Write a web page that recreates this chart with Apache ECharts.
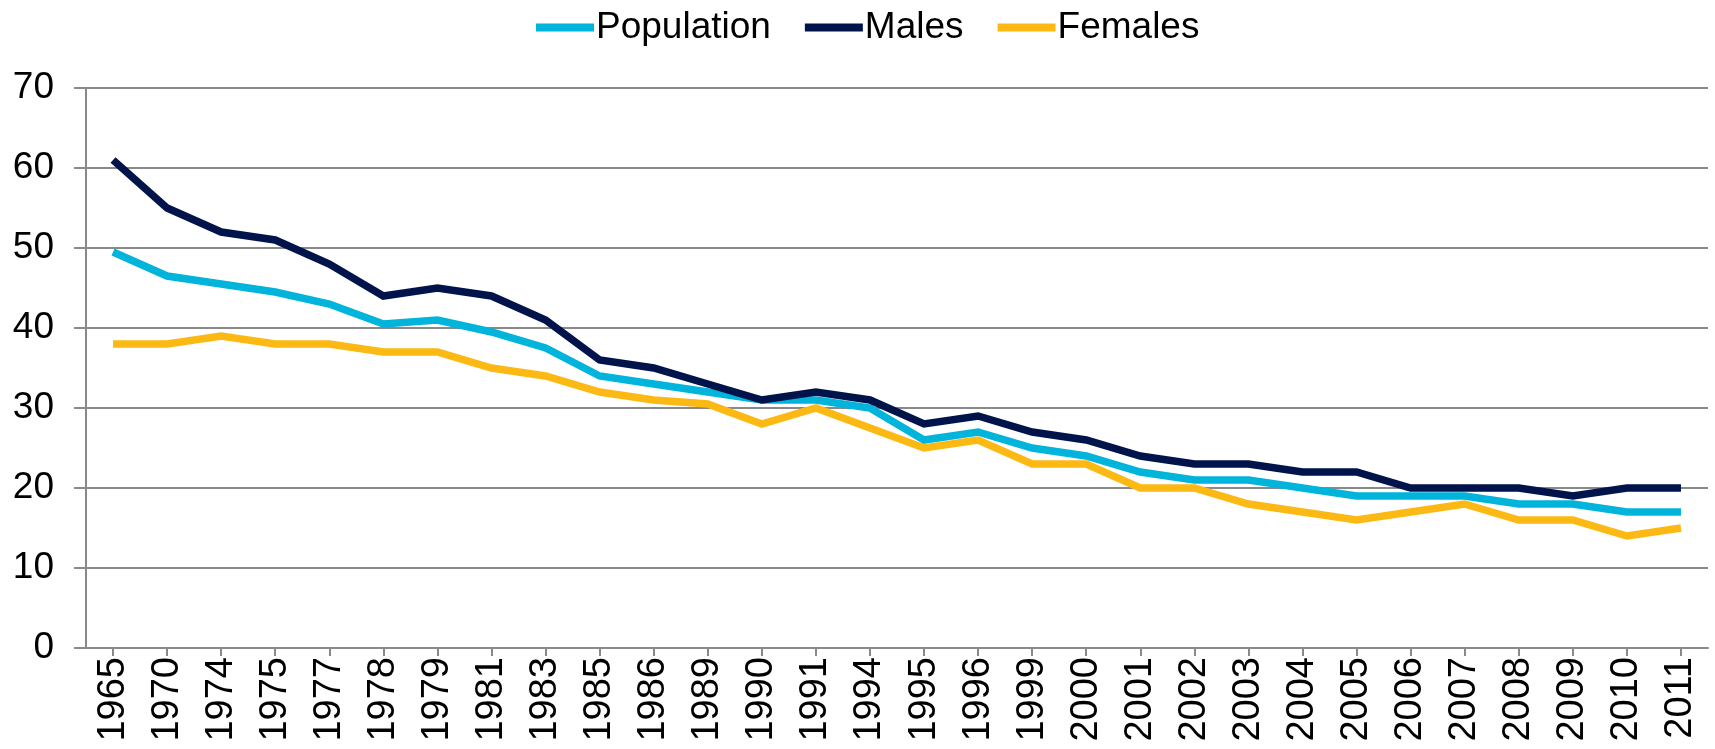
<!DOCTYPE html>
<html>
<head>
<meta charset="utf-8">
<script src="https://cdn.jsdelivr.net/npm/echarts@6/dist/echarts.min.js"></script>
<style>
  html, body { margin: 0; padding: 0; background: #fff; }
  #chart-container { width: 1715px; height: 749px; }
</style>
</head>
<body>
<div id="chart-container"></div>
<script>
var years = ['1965', '1970', '1974', '1975', '1977', '1978', '1979', '1981', '1983', '1985',
    '1986', '1989', '1990', '1991', '1994', '1995', '1996', '1999', '2000', '2001',
    '2002', '2003', '2004', '2005', '2006', '2007', '2008', '2009', '2010', '2011'];

var population = [49.5, 46.5, 45.5, 44.5, 43, 40.5, 41, 39.5, 37.5, 34,
    33, 32, 31, 31, 30, 26, 27, 25, 24, 22,
    21, 21, 20, 19, 19, 19, 18, 18, 17, 17];

var males = [61, 55, 52, 51, 48, 44, 45, 44, 41, 36,
    35, 33, 31, 32, 31, 28, 29, 27, 26, 24,
    23, 23, 22, 22, 20, 20, 20, 19, 20, 20];

var females = [38, 38, 39, 38, 38, 37, 37, 35, 34, 32,
    31, 30.5, 28, 30, 27.5, 25, 26, 23, 23, 20,
    20, 18, 17, 16, 17, 18, 16, 16, 14, 15];

var yTicks = [0, 10, 20, 30, 40, 50, 60, 70];

var font = '"Liberation Sans", Arial, sans-serif';
var gray = '#898989';

var makeLine = function (name, data, color) {
    return {
        name: name,
        type: 'line',
        data: data,
        showSymbol: false,
        symbol: 'none',
        lineStyle: { color: color, width: 7.5, join: 'miter' },
        itemStyle: { color: color },
        emphasis: { disabled: true }
    };
};

var myChart = echarts.init(document.getElementById('chart-container'));

var option = {
    animation: false,
    textStyle: { fontFamily: font },
    legend: {
        top: 4,
        left: 531,
        icon: 'rect',
        itemWidth: 58,
        itemHeight: 8,
        itemGap: 34,
        textStyle: { fontSize: 37, color: '#000', fontFamily: font, padding: [0, 0, 0, -3] },
        data: ['Population', 'Males', 'Females']
    },
    grid: { left: 86, right: 7, top: 88, bottom: 101 },
    xAxis: {
        type: 'category',
        data: years,
        boundaryGap: true,
        axisLine: { lineStyle: { color: gray, width: 2 } },
        axisTick: { show: true, alignWithLabel: true, length: 8, lineStyle: { color: gray, width: 2 } },
        axisLabel: { rotate: 90, margin: 9, fontSize: 38, color: '#000', fontFamily: font, interval: 0 },
        splitLine: { show: false }
    },
    yAxis: {
        type: 'value',
        min: yTicks[0],
        max: yTicks[yTicks.length - 1],
        interval: 10,
        axisLine: { show: true, lineStyle: { color: gray, width: 2 } },
        axisTick: { show: true, length: 12, lineStyle: { color: gray, width: 2 } },
        axisLabel: { margin: 32, fontSize: 37, color: '#000', fontFamily: font },
        splitLine: { show: true, lineStyle: { color: gray, width: 2 } }
    },
    series: [
        makeLine('Population', population, '#00B4DC'),
        makeLine('Males', males, '#00134A'),
        makeLine('Females', females, '#FDB913')
    ]
};

myChart.setOption(option);
</script>
</body>
</html>
